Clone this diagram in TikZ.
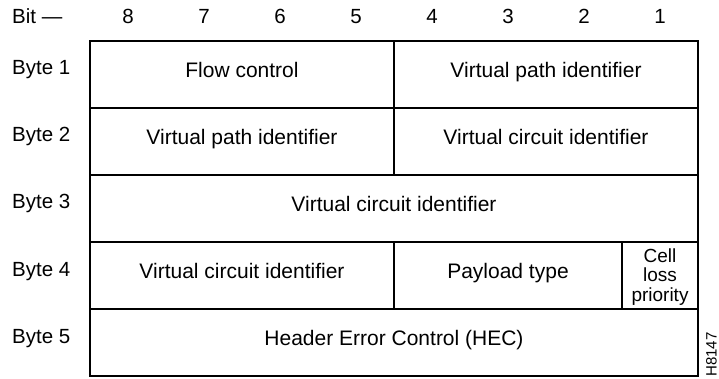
\documentclass[tikz,border=0pt]{standalone}
\usepackage{fontspec}
\setmainfont{Liberation Sans}
\usepackage{tikz}
\usetikzlibrary{positioning}

\begin{document}
\begin{tikzpicture}[x=1pt, y=-1pt,
		cell/.style={draw, line width=1.2pt, anchor=north west, outer sep=0pt, inner sep=0pt,
			minimum height=67pt, text height=13pt, text depth=6.5pt,
			font=\fontsize{21}{21}\selectfont},
		rowlabel/.style={anchor=base west, inner sep=0pt, font=\fontsize{20.5}{20.5}\selectfont},
		bitlabel/.style={anchor=base, inner sep=0pt, font=\fontsize{20.5}{20.5}\selectfont},
	]
		\useasboundingbox (0,0) rectangle (719,379);
		% bit numbers
		\node[rowlabel] (bit) at (12,23.3) {Bit ---};
		\foreach \b [count=\i] in {8,7,...,1}
			\node[bitlabel] (bit\b) at ({90+76*\i-38},23.3) {\b};
		% byte numbers
		\foreach \r in {1,...,5}
			\node[rowlabel] (byte\r) at (12,{41+67*(\r-1)+34}) {Byte \r};
		% header fields
		\node[cell, minimum width=304pt] (flow) at (90,41) {Flow control};
		\node[cell, minimum width=304pt] (vpia) at (394,41) {Virtual path identifier};
		\node[cell, minimum width=304pt] (vpib) at (90,108) {Virtual path identifier};
		\node[cell, minimum width=304pt] (vcia) at (394,108) {Virtual circuit identifier};
		\node[cell, minimum width=608pt] (vcib) at (90,175) {Virtual circuit identifier};
		\node[cell, minimum width=304pt] (vcic) at (90,242) {Virtual circuit identifier};
		\node[cell, minimum width=228pt] (payload) at (394,242) {Payload type};
		\node[cell, minimum width=76pt] (clp) at (622,242) {};
		\node[align=center, inner sep=0pt, font=\fontsize{19}{19.5}\selectfont] (clptext)
			at ([yshift=-1.5pt]clp.center) {Cell\\loss\\priority};
		\node[cell, minimum width=608pt] (hec) at (90,309) {Header Error Control (HEC)};
		% figure number
		\node[rotate=90, anchor=base west, inner sep=0pt, font=\fontsize{15}{15}\selectfont] (fignum) at (716.5,377) {H8147};
	\end{tikzpicture}
\end{document}
